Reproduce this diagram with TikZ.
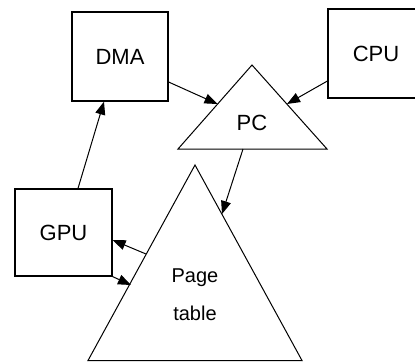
\documentclass[tikz,border=0pt]{standalone}
\usepackage{fontspec}
\setmainfont{Liberation Sans}
\usetikzlibrary{arrows.meta}
\begin{document}
\begin{tikzpicture}[x=1pt,y=-1pt,
  box/.style={draw,line width=1.2pt,minimum width=96pt,minimum height=89pt,inner sep=0pt,font=\fontsize{22}{24}\selectfont},
  lbl/.style={inner sep=0pt,font=\fontsize{22}{24}\selectfont},
  conn/.style={line width=1pt,-{Triangle[length=13pt,width=10pt]}},
  tri/.style={draw,line width=1pt,line join=miter}]
\useasboundingbox (0,0) rectangle (415,362);
\clip (0,0) rectangle (415,362);
\node[box] (dma) at (120,56.5) {DMA};
\node[box] (cpu) at (376,53.5) {CPU};
\node[box,minimum width=97pt,minimum height=87pt] (gpu) at (63.5,232.5) {GPU};
\draw[tri] (178,149) -- (252,65) -- (327,149) -- cycle;
\node[lbl] (pc) at (252,123) {PC};
\draw[tri] (195,165) -- (88,360.5) -- (302,360.5) -- cycle;
\node[align=center,inner sep=0pt,font=\fontsize{20}{38}\selectfont] (pt) at (195,295) {Page\\table};
\coordinate (pcL) at (217.5,104);
\coordinate (pcR) at (287,104);
\coordinate (pcB) at (243,149);
\coordinate (ptR) at (222,214);
\coordinate (ptL1) at (146,254);
\coordinate (ptL2) at (131,285);
\draw[conn] ([yshift=-25.5pt]dma.east) -- (pcL);
\draw[conn] ([yshift=-27.5pt]cpu.west) -- (pcR);
\draw[conn] ([xshift=14.5pt]gpu.north) -- ([xshift=-16pt]dma.south);
\draw[conn] (pcB) -- (ptR);
\draw[conn] (ptL1) -- ([yshift=-7.5pt]gpu.east);
\draw[conn] (gpu.south east) -- (ptL2);
\end{tikzpicture}
\end{document}
